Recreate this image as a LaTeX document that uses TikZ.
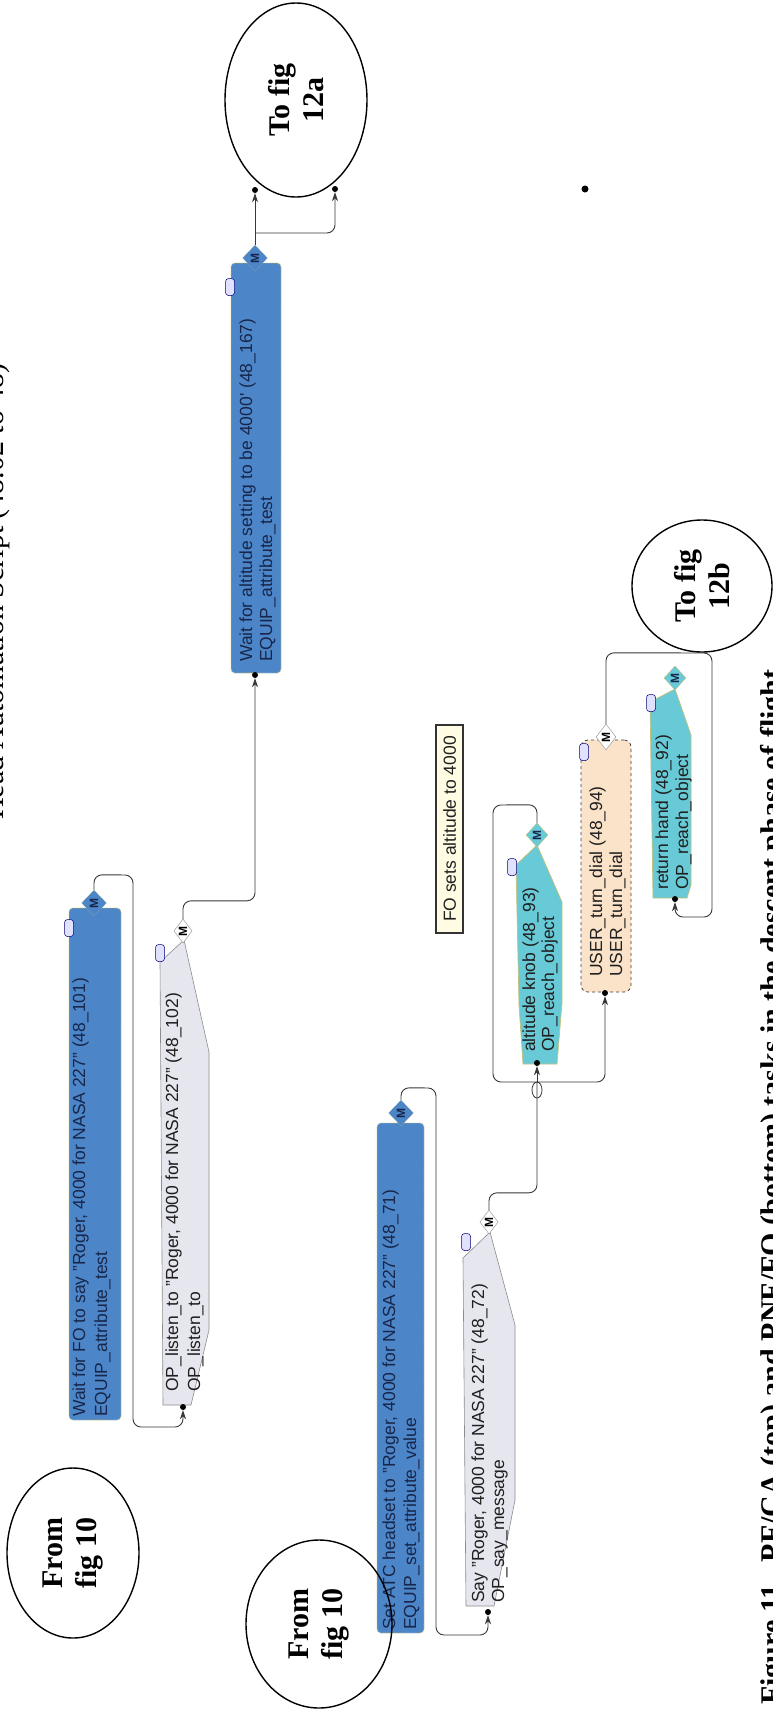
\documentclass[tikz,border=0pt]{standalone}
\usepackage{fontspec}
\setmainfont{Liberation Serif}
\setsansfont{Liberation Sans}
\usetikzlibrary{shapes.geometric,arrows.meta}
\definecolor{boxblue}{HTML}{4D86C8}
\definecolor{navy}{HTML}{17264A}
\definecolor{greyfill}{HTML}{E6E6EF}
\definecolor{cyanfill}{HTML}{68CAD6}
\definecolor{tanfill}{HTML}{FBE3C9}
\definecolor{notefill}{HTML}{FFFCE3}
\definecolor{edgeyel}{HTML}{C2C27A}
\definecolor{lineg}{HTML}{383838}
\begin{document}
\begin{tikzpicture}[x=1pt,y=-1pt,
  conn/.style={draw=lineg,line width=0.9pt,rounded corners=8pt},
  arr/.style={conn,-{Stealth[length=9pt,width=6pt]}},
  dotn/.style={circle,fill=black,inner sep=0pt,minimum size=6pt},
  bluebox/.style={draw=edgeyel,densely dotted,line width=0.9pt,fill=boxblue,rounded corners=4pt,inner sep=0pt},
  greyshape/.style={draw=black!45,line width=0.6pt,fill=greyfill},
  cyanshape/.style={draw=edgeyel,line width=0.7pt,fill=cyanfill},
  bt/.style={font=\sffamily\fontsize{17.5}{20}\selectfont,rotate=90,anchor=base west,inner sep=0pt,text=navy},
  gt/.style={bt,text=black!88},
  mblue/.style={diamond,draw=edgeyel,densely dotted,fill=boxblue,inner sep=0pt,minimum width=25pt,minimum height=26pt,text=navy,font=\sffamily\bfseries\fontsize{12}{12}\selectfont},
  mgrey/.style={diamond,draw=black!45,fill=white,inner sep=0pt,minimum width=17pt,minimum height=24pt,text=black,font=\sffamily\bfseries\fontsize{12}{12}\selectfont},
  mcyan/.style={diamond,draw=edgeyel,fill=cyanfill,inner sep=0pt,minimum width=22pt,minimum height=24pt,text=navy,font=\sffamily\bfseries\fontsize{12}{12}\selectfont},
  pclip/.style={draw=blue!45!black,fill=blue!12,rounded corners=3pt,minimum width=9pt,minimum height=17pt,inner sep=0pt,line width=0.5pt},
  bubble/.style={ellipse,draw=black,line width=1.4pt,inner sep=0pt},
  bubtext/.style={font=\bfseries\fontsize{30}{34}\selectfont,rotate=90,align=center,inner sep=0pt}
]
\fill[white] (0,0) rectangle (773,1716);
\useasboundingbox (0,0) rectangle (773,1716);

% cut-off title and caption
\node[font=\fontsize{30}{30}\selectfont,rotate=90,anchor=base west,inner sep=0pt] (title) at (4,820) {Head Automation Script (48.02 to 48)};
\node[font=\bfseries\fontsize{30}{30}\selectfont,rotate=90,anchor=base west,inner sep=0pt] (caption) at (781,1705) {Figure 11.~~PF/CA (top) and PNF/FO (bottom) tasks in the descent phase of flight};

% ---- node bodies ----
\node[bluebox,minimum width=50pt,minimum height=410pt] (b1) at (256,468) {};
\node[bluebox,minimum width=52pt,minimum height=512pt] (b2) at (95,1164) {};
\node[bluebox,minimum width=47pt,minimum height=510pt] (b3) at (400.5,1378) {};
\draw[greyshape] (184,940) -- (209,1052) -- (209,1330) -- (191,1405) -- (163,1405) -- (160,962) -- cycle;
\draw[greyshape] (490,1232) -- (515,1325) -- (515,1500) -- (494,1606) -- (466,1606) -- (463,1258) -- cycle;
\draw[cyanshape] (537,845) -- (562,902) -- (562,1003) -- (557,1064) -- (523,1064) -- (519,1005) -- (516,865) -- cycle;
\draw[cyanshape] (675,689) -- (691,735) -- (691,885) -- (687,898) -- (653,898) -- (650,702) -- cycle;
\node[draw=black!75,dashed,line width=0.8pt,fill=tanfill,rounded corners=7pt,minimum width=50pt,minimum height=252pt,inner sep=0pt] (td) at (606,866) {};
\node[draw=black!80,line width=1.3pt,fill=notefill,minimum width=27pt,minimum height=208pt,inner sep=0pt] (fo) at (449.5,829) {};
\node[gt,anchor=center] (fot) at (fo.center) {FO sets altitude to 4000};

% ---- texts ----
\node[bt] (b1a) at (252,662) {Wait for altitude setting to be 4000\textquotesingle\ (48\_167)};
\node[bt] (b1b) at (272,662) {EQUIP\_attribute\_test};
\node[bt] (b2a) at (85,1417) {Wait for FO to say "Roger, 4000 for NASA 227" (48\_101)};
\node[bt] (b2b) at (107,1417) {EQUIP\_attribute\_test};
\node[bt] (b3a) at (395,1630) {Set ATC headset to "Roger, 4000 for NASA 227" (48\_71)};
\node[bt] (b3b) at (416,1630) {EQUIP\_set\_attribute\_value};
\node[gt] (la) at (178,1392) {OP\_listen\_to "Roger, 4000 for NASA 227" (48\_102)};
\node[gt] (lb) at (200,1392) {OP\_listen\_to};
\node[gt] (sa) at (484,1603) {Say "Roger, 4000 for NASA 227" (48\_72)};
\node[gt] (sb) at (504,1603) {OP\_say\_message};
\node[gt] (ka) at (535,1052) {altitude knob (48\_93)};
\node[gt] (kb) at (554,1052) {OP\_reach\_object};
\node[gt] (ta) at (602,977) {USER\_turn\_dial (48\_94)};
\node[gt] (tb) at (622,977) {USER\_turn\_dial};
\node[gt] (ra) at (668,890) {return hand (48\_92)};
\node[gt] (rb) at (688,890) {OP\_reach\_object};

% ---- M markers ----
\node[mblue] (m1) at (255,258) {\rotatebox{90}{M}};
\node[mblue] (m2) at (94,903) {\rotatebox{90}{M}};
\node[mblue] (m3) at (401,1113) {\rotatebox{90}{M}};
\node[mgrey] (mL) at (183,931) {\rotatebox{90}{M}};
\node[mgrey] (mS) at (489,1222) {\rotatebox{90}{M}};
\node[mcyan] (mK) at (537,835) {\rotatebox{90}{M}};
\node[mgrey,minimum width=20pt,minimum height=26pt] (mT) at (606,737) {\rotatebox{90}{M}};
\node[mcyan] (mR) at (675,678) {\rotatebox{90}{M}};

% ---- paperclips ----
\node[pclip] (p1) at (230,287) {};
\node[pclip] (p2) at (69,928) {};
\node[pclip] (p3) at (160,953) {};
\node[pclip] (p4) at (466,1242) {};
\node[pclip] (p5) at (512,867) {};
\node[pclip] (p6) at (584,752) {};
\node[pclip] (p7) at (651,703) {};

% ---- dots and junctions ----
\node[dotn] (da) at (255,190) {};
\node[dotn] (db) at (335,189) {};
\node[dotn] (dB1) at (255,675) {};
\node[dotn] (dL) at (183,1407) {};
\node[dotn] (dS) at (488,1612) {};
\node[dotn] (dK) at (537,1063) {};
\node[dotn] (dT) at (605,993) {};
\node[dotn] (dR) at (675,899) {};
\node[dotn,minimum size=7pt] (stray) at (585,189) {};
\coordinate (j1) at (255,233);
\coordinate (J) at (537,1082);

% ---- connectors ----
\draw[conn] (m1.north) -- (j1);
\draw[arr] (j1) -- (da);
\draw[arr] (j1) -- (db |- j1) -- (db);
\draw[arr] (mL.north) -- ++(0,-18) -| (dB1);
\draw[arr] (m2.north) -- ++(0,-15) -- (133,875) -- (133,1427) -| (dL);
\draw[arr] (m3.north) -- ++(0,-12) -- (436,1088) -- (436,1635) -| (dS);
\draw[conn] (mS.north) -- ++(0,-17) -| (J);
\draw[arr] (J) -- (dK);
\draw[conn] (mK.north) -- ++(0,-18) -- (493,805) -- (493,1082) -- (J);
\draw[arr] (J) -| (dT);
\draw[arr] (mT.north) -- ++(0,-71) -- (712,653) -- (712,917) -| (dR);
\node[ellipse,draw=lineg,line width=0.8pt,minimum width=10pt,minimum height=16pt,inner sep=0pt] (oc) at (537,1090) {};

% ---- bubbles ----
\node[bubble,minimum width=142pt,minimum height=194pt] (e12a) at (296,100) {};
\node[bubtext] (t12a) at (e12a.center) {To fig\\12a};
\node[bubble,minimum width=140pt,minimum height=132pt] (e12b) at (702,586) {};
\node[bubtext] (t12b) at (e12b.center) {To fig\\12b};
\node[bubble,minimum width=132pt,minimum height=170pt] (ef1) at (73,1553) {};
\node[bubtext] (tf1) at (ef1.center) {From\\fig 10};
\node[bubble,minimum width=146pt,minimum height=168pt] (ef2) at (319,1624) {};
\node[bubtext] (tf2) at (ef2.center) {From\\fig 10};
\end{tikzpicture}
\end{document}
